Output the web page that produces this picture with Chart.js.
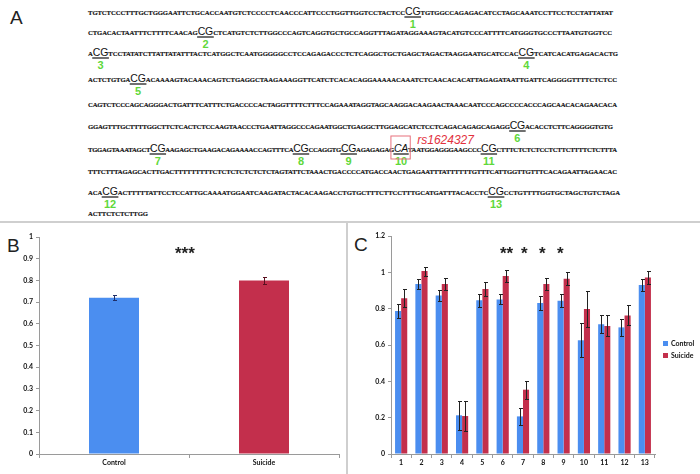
<!DOCTYPE html>
<html><head><meta charset="utf-8">
<script src="https://cdn.jsdelivr.net/npm/chart.js@4/dist/chart.umd.min.js"></script>
<style>
html,body{margin:0;padding:0;background:#fff;}
body{width:700px;height:474px;position:relative;overflow:hidden;font-family:"Liberation Sans",Arial,sans-serif;}
.abs{position:absolute;}
.plab{position:absolute;font-size:19px;line-height:19px;color:#222;font-family:"Liberation Sans",Arial,sans-serif;}
.star{position:absolute;font-size:17px;line-height:17px;font-weight:bold;color:#222;font-family:"Liberation Sans",Arial,sans-serif;white-space:pre;}
.leg{position:absolute;font:bold 7px Lato,sans-serif;color:#111;line-height:7px;}
.leg i{display:inline-block;width:5px;height:5px;margin-right:3px;vertical-align:0px;}
</style></head><body>
<svg id="seq" class="abs" style="left:0;top:0" width="700" height="222"></svg>
<div class="abs" style="left:0;top:221px;width:700px;height:2px;background:#cfcfcf"></div>
<div class="abs" style="left:346px;top:222px;width:2px;height:252px;background:#cfcfcf"></div>
<div class="plab" style="left:10px;top:8px">A</div>
<div class="plab" style="left:7px;top:236px">B</div>
<div class="plab" style="left:354px;top:235px">C</div>
<div class="abs" style="left:0;top:224px"><canvas id="cB" width="346" height="250"></canvas></div>
<div class="abs" style="left:348px;top:224px"><canvas id="cC" width="352" height="250"></canvas></div>
<div class="star" style="left:175px;top:245px">***</div>
<div class="star" style="left:500px;top:245px">**</div>
<div class="star" style="left:521px;top:245px">*</div>
<div class="star" style="left:539px;top:245px">*</div>
<div class="star" style="left:557px;top:245px">*</div>
<div class="leg" style="left:663px;top:340px"><i style="background:#4b8ef0"></i>Control</div>
<div class="leg" style="left:663px;top:352px"><i style="background:#c32f4c"></i>Suicide</div>
<script>
// ---------- Panel B data ----------
const catsB = ['Control', 'Suicide'];
const meanB = [0.72, 0.80];
const errB = [0.012, 0.017];
const yTicksB = ['0','0.1','0.2','0.3','0.4','0.5','0.6','0.7','0.8','0.9','1'];

// ---------- Panel C data ----------
const catsC = ['1','2','3','4','5','6','7','8','9','10','11','12','13'];
const controlC = [0.787,0.936,0.872,0.213,0.846,0.851,0.207,0.831,0.844,0.626,0.714,0.697,0.930];
const controlErrC = [0.040,0.025,0.030,0.080,0.036,0.028,0.045,0.036,0.035,0.093,0.050,0.048,0.033];
const suicideC = [0.857,1.007,0.936,0.209,0.908,0.980,0.354,0.936,0.965,0.798,0.705,0.763,0.971];
const suicideErrC = [0.050,0.025,0.035,0.080,0.037,0.031,0.050,0.035,0.035,0.100,0.058,0.055,0.036];
const yTicksC = ['0','0.2','0.4','0.6','0.8','1','1.2'];

// ---------- Panel A sequence ----------
const seqLines = [
 [['t','TGTCTCCCTTTGCTGGGAATTCTGCACCAATGTCTCCCCTCAACCCATTCCCTGGTTGGTCCTACTCC'],['cg','CG','1'],['t','TGTGGCCAGAGACATCCTAGCAAATCCTTCCTCCTATTATAT']],
 [['t','CTGACACTAATTTCTTTTCAACAG'],['cg','CG','2'],['t','CTCATGTCTCTTGGCCCAGTCAGGTGCTGCCAGGTTTAGATAGGAAAGTACATGTCCCATTTTCATGGGTGCCCTTAATGTGGTCC']],
 [['t','A'],['cg','CG','3'],['t','TCCTATATCTTATTATATTTACTCATGGCTCAATGGGGGCCTCCAGAGACCCTCTCAGGCTGCTGAGCTAGACTAAGGAATGCATCCAC'],['cg','CG','4'],['t','TCATCACATGAGACACTG']],
 [['t','ACTCTGTGA'],['cg','CG','5'],['t','ACAAAAGTACAAACAGTCTGAGGCTAAGAAAGGTTCATCTCACACAGGAAAAACAAATCTCAACACACATTAGAGATAATTGATTCAGGGGTTTTCTCTCC']],
 [['t','CAGTCTCCCAGCAGGGACTGATTTCATTTCTGACCCCACTAGGTTTTCTTTCCAGAAATAGGTAGCAAGGACAAGAACTAAACAATCCCAGCCCCACCCAGCAACACAGAACACA']],
 [['t','GGAGTTTGCTTTTGGCTTCTCACTCTCCAAGTAACCCTGAATTAGGCCCAGAATGGCTGAGGCTTGGAGCATCTCCTCAGACAGAGCAGAGG'],['cg','CG','6'],['t','ACACCTCTTCAGGGGTGTG']],
 [['t','TGGAGTAAATAGCT'],['cg','CG','7'],['t','AAGAGCTGAAGACAGAAAACCAGTTTCA'],['cg','CG','8'],['t','CCAGGTG'],['cg','CG','9'],['t','AGAGAGAG'],['ca','CA','10'],['t','TAATGGAGGGAAGCCC'],['cg','CG','11'],['t','CTTTCTCTCTCCTCTTCTTTTCTCTTTA']],
 [['t','TTTCTTTAGAGCACTTGACTTTTTTTTTCTCTCTCTCTCTCTAGTATTCTAAACTGACCCCATGACCAACTGAGAATTTATTTTTTGTTTCATTGGTTGTTTCACAGAATTAGAACAC']],
 [['t','ACA'],['cg','CG','12'],['t','ACTTTTTATTCCTCCATTGCAAAATGGAATCAAGATACTACACAAGACCTGTGCTTTCTTCCTTTGCATGATTTACACCTC'],['cg','CG','13'],['t','CCTGTTTTGGTGCTAGCTGTCTAGA']],
 [['t','ACTTCTCTCTTGG']]
];
const lineEnds = [613,612,618,617,617,613,617,617,620,148];
const snpLabel = 'rs1624327';

(function buildSeq(){
  const NS = 'http://www.w3.org/2000/svg';
  const svg = document.getElementById('seq');
  const centers = [13, 33, 54, 80, 105, 127, 150, 172, 193, 214];
  function el(tag, attrs, txt){ const e=document.createElementNS(NS,tag); for(const k in attrs) e.setAttribute(k,attrs[k]); if(txt!==undefined) e.textContent=txt; return e; }
  seqLines.forEach((segs, li) => {
    const by = centers[li] + 2;
    const text = el('text', {x:88, y:by, 'font-family':'Liberation Serif, serif', 'font-weight':'bold', 'font-size':'6.7', fill:'#111', stroke:'#111', 'stroke-width':'0.15'});
    segs.forEach(s => {
      let a = {};
      if (s[0]==='cg') a = {'font-family':'Liberation Sans, Arial, sans-serif','font-weight':'normal','font-size':'10.5','stroke-width':'0'};
      if (s[0]==='ca') a = {'font-family':'Liberation Sans, Arial, sans-serif','font-weight':'normal','font-style':'italic','font-size':'10.5','stroke-width':'0'};
      text.appendChild(el('tspan', a, s[1]));
    });
    text.setAttribute('textLength', lineEnds[li]-88);
    text.setAttribute('lengthAdjust','spacing');
    svg.appendChild(text);
    let idx = 0;
    segs.forEach(s => {
      if (s[0] !== 't') {
        const a = text.getExtentOfChar(idx), b = text.getExtentOfChar(idx + s[1].length - 1);
        const x0 = a.x, x1 = b.x + b.width, cx = (x0+x1)/2;
        svg.appendChild(el('line', {x1:x0-0.5, x2:x1+0.5, y1:by+2, y2:by+2, stroke:'#222', 'stroke-width':1.3}));
        svg.appendChild(el('text', {x:cx, y:by+13, 'text-anchor':'middle', 'font-family':'Liberation Sans, Arial, sans-serif', 'font-weight':'bold', 'font-size':'11', fill:'#5fd83a'}, s[2]));
        if (s[0]==='ca') {
          svg.appendChild(el('rect', {x:x0-3, y:by-16, width:(x1-x0)+5, height:23, fill:'none', stroke:'#e8707c', 'stroke-width':1}));
          svg.appendChild(el('text', {x:x1+9, y:by-8, 'font-family':'Liberation Sans, Arial, sans-serif', 'font-style':'italic', 'font-size':'12', fill:'#e2323e'}, snpLabel));
        }
      }
      idx += s[1].length;
    });
  });
})();

// ---------- error bar plugin ----------
const errorBars = {
  id: 'errorBars',
  afterDatasetsDraw(chart, args, opts) {
    const ctx = chart.ctx, ys = chart.scales.y;
    chart.data.datasets.forEach((ds, di) => {
      const meta = chart.getDatasetMeta(di);
      meta.data.forEach((bar, i) => {
        const v = ds.data[i], e = ds.errors[i];
        const yt = Math.round(ys.getPixelForValue(v + e)) + 0.5;
        const yb = Math.round(ys.getPixelForValue(v - e)) + 0.5;
        const x = Math.round(bar.x) + 0.5;
        const col = Array.isArray(ds.errColor) ? ds.errColor[i] : ds.errColor;
        ctx.save();
        ctx.strokeStyle = col; ctx.lineWidth = 1;
        ctx.beginPath();
        ctx.moveTo(x, yt); ctx.lineTo(x, yb);
        ctx.moveTo(x - opts.cap, yt); ctx.lineTo(x + opts.cap + 1, yt);
        ctx.moveTo(x - opts.cap, yb); ctx.lineTo(x + opts.cap + 1, yb);
        ctx.stroke();
        ctx.restore();
      });
    });
  }
};

Chart.defaults.font.family = 'Lato, "Liberation Sans", sans-serif';
const tickFont = {family: 'Lato, "Liberation Sans", sans-serif', weight: 'bold', size: 7};
const axisCol = '#9a9a9a';

new Chart(document.getElementById('cB'), {
  type: 'bar',
  data: {
    labels: catsB,
    datasets: [{
      data: meanB, errors: errB,
      backgroundColor: ['#4b8ef0', '#c32f4c'],
      errColor: ['#1f2f6a', '#5a1020'],
      borderWidth: 0, barPercentage: 1, categoryPercentage: 1/3
    }]
  },
  options: {
    responsive: false, animation: false,
    layout: {padding: {top: 13, right: 7, left: 0, bottom: 0}},
    plugins: {legend: {display: false}, tooltip: {enabled: false}, errorBars: {cap: 1.5}},
    scales: {
      x: {
        grid: {drawOnChartArea: false, tickLength: 4, color: axisCol},
        border: {color: axisCol},
        ticks: {font: tickFont, color: '#111', padding: 1},
        afterFit(s) { s.height = 20; }
      },
      y: {
        min: 0, max: 1,
        afterBuildTicks(s) { s.ticks = yTicksB.map(t => ({value: Number(t)})); },
        ticks: {font: tickFont, color: '#111', padding: 3, callback: (v, i) => yTicksB[i]},
        grid: {drawOnChartArea: false, tickLength: 3, color: axisCol},
        border: {color: axisCol},
        afterFit(s) { s.width = 39; }
      }
    }
  },
  plugins: [errorBars]
});

new Chart(document.getElementById('cC'), {
  type: 'bar',
  data: {
    labels: catsC,
    datasets: [
      {label: 'Control', data: controlC, errors: controlErrC, backgroundColor: '#4b8ef0', errColor: '#222', borderWidth: 0, barPercentage: 1, categoryPercentage: 0.6},
      {label: 'Suicide', data: suicideC, errors: suicideErrC, backgroundColor: '#c32f4c', errColor: '#222', borderWidth: 0, barPercentage: 1, categoryPercentage: 0.6}
    ]
  },
  options: {
    responsive: false, animation: false,
    layout: {padding: {top: 12, right: 45, left: 0, bottom: 0}},
    plugins: {legend: {display: false}, tooltip: {enabled: false}, errorBars: {cap: 1.5}},
    scales: {
      x: {
        grid: {drawOnChartArea: false, tickLength: 4, color: axisCol},
        border: {color: axisCol},
        ticks: {font: tickFont, color: '#111', padding: 1},
        afterFit(s) { s.height = 20; }
      },
      y: {
        min: 0, max: 1.2,
        afterBuildTicks(s) { s.ticks = yTicksC.map(t => ({value: Number(t)})); },
        ticks: {font: tickFont, color: '#111', padding: 3, callback: (v, i) => yTicksC[i]},
        grid: {drawOnChartArea: false, tickLength: 3, color: axisCol},
        border: {color: axisCol},
        afterFit(s) { s.width = 43; }
      }
    }
  },
  plugins: [errorBars]
});
</script>
</body></html>
